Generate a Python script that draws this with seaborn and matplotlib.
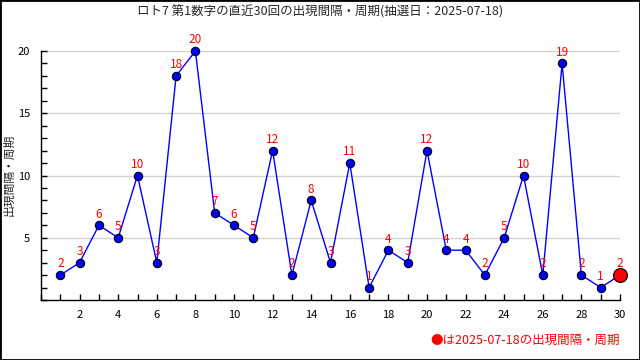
import matplotlib
matplotlib.use("Agg")
import matplotlib.pyplot as plt
import seaborn as sns
import pandas as pd
from matplotlib.ticker import MultipleLocator

# ---- data ----
draws = list(range(1, 31))
intervals = [2, 3, 6, 5, 10, 3, 18, 20, 7, 6, 5, 12, 2, 8, 3, 11, 1, 4, 3, 12,
             4, 4, 2, 5, 10, 2, 19, 2, 1, 2]
title = "ロト7 第1数字の直近30回の出現間隔・周期(抽選日：2025-07-18)"
ylabel = "出現間隔・周期"
footer = "●は2025-07-18の出現間隔・周期"

df = pd.DataFrame({"draw": draws, "interval": intervals})

sns.set_style("white")
plt.rcParams["font.family"] = ["Noto Sans CJK JP", "DejaVu Sans"]

fig = plt.figure(figsize=(6.4, 3.6), dpi=100)
ax = fig.add_axes([41 / 640, 60 / 360, (620 - 41) / 640, (300 - 51) / 360])

# grid lines at the labelled y values
for v in [5, 10, 15, 20]:
    ax.axhline(v, color="#d3d3d3", lw=1, zorder=0)

sns.lineplot(data=df, x="draw", y="interval", ax=ax, color="blue", lw=1,
             marker="o", markersize=6, markerfacecolor="blue",
             markeredgecolor="black", markeredgewidth=0.8, clip_on=False)

# latest draw highlighted in red
last = df.iloc[-1]
ax.plot(last["draw"], last["interval"], "o", ms=10, color="red",
        mec="black", mew=0.8, clip_on=False, zorder=5)

for x, y in zip(draws, intervals):
    ax.annotate(str(y), (x, y), xytext=(0, 8), textcoords="offset points",
                ha="center", va="center", color="red", fontsize=8.5)

ax.set_xlim(0, 30)
ax.set_ylim(0, 20)
ax.set_xticks(list(range(2, 31, 2)))
ax.set_yticks([5, 10, 15, 20])
ax.xaxis.set_minor_locator(MultipleLocator(1))
ax.yaxis.set_minor_locator(MultipleLocator(1))
ax.tick_params(axis="both", which="both", bottom=True, left=True,
               direction="in", color="black", width=1, length=4)
ax.tick_params(axis="both", which="major", labelsize=8, labelcolor="black")
ax.tick_params(axis="x", which="major", pad=7)
ax.tick_params(axis="y", which="major", pad=8)
ax.set_xlabel("")
ax.set_ylabel("")

for side in ["top", "right"]:
    ax.spines[side].set_visible(False)
for side in ["left", "bottom"]:
    ax.spines[side].set_color("black")
    ax.spines[side].set_linewidth(1)

fig.text(0.5, 1 - 12 / 360, title, ha="center", va="center", fontsize=9)
fig.text(9 / 640, 1 - 175 / 360, ylabel, ha="center", va="center",
         rotation=90, fontsize=8.5)
fig.text(620 / 640, 1 - 340 / 360, footer, ha="right", va="center",
         fontsize=9, color="red")

# black frame around the whole picture
fig.patches.append(plt.Rectangle((0, 0), 1, 1, transform=fig.transFigure,
                                 fill=False, edgecolor="black", lw=2))

fig.savefig("out.png", dpi=100)
